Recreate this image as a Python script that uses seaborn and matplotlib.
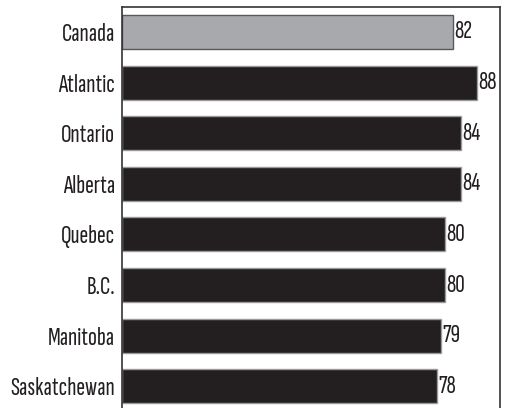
import matplotlib
matplotlib.use("Agg")
import matplotlib.pyplot as plt
import seaborn as sns
import pandas as pd

regions = ["Canada", "Atlantic", "Ontario", "Alberta", "Quebec", "B.C.", "Manitoba", "Saskatchewan"]
values = [82, 88, 84, 84, 80, 80, 79, 78]

df = pd.DataFrame({"region": regions, "value": values})

sns.set_style("white")
plt.rcParams["font.family"] = ["Sofia Sans Extra Condensed", "DejaVu Sans"]

fig = plt.figure(figsize=(5.07, 4.08), dpi=100)
W, H = 507, 408
ax = fig.add_axes([122 / W, 0, (500 - 122) / W, (408 - 7) / H])

palette = ["#A7A9AC"] + ["#231F20"] * (len(regions) - 1)
sns.barplot(data=df, x="value", y="region", hue="region", palette=palette,
            legend=False, width=0.67, ax=ax, saturation=1)

edges = ["#58595B"] + ["#9A9A9A"] * (len(regions) - 1)
for patch, ec in zip(ax.patches, edges):
    patch.set_edgecolor(ec)
    patch.set_linewidth(1.0)

for i, v in enumerate(values):
    ax.text(v + 0.35, i, str(v), va="center", ha="left", fontsize=19,
            fontweight="semibold", color="#231F20")

ax.set_xlim(0, 93.7)
ax.set_ylim(7.43, -0.494)
ax.set_xlabel("")
ax.set_ylabel("")
ax.set_xticks([])
ax.tick_params(axis="y", length=0, pad=5, labelsize=19, labelcolor="#231F20")
for lab in ax.get_yticklabels():
    lab.set_fontweight("semibold")

for side in ["top", "right", "left"]:
    ax.spines[side].set_visible(True)
    ax.spines[side].set_color("#333333")
    ax.spines[side].set_linewidth(1.2)
ax.spines["bottom"].set_visible(False)

fig.savefig("out.png", dpi=100)
